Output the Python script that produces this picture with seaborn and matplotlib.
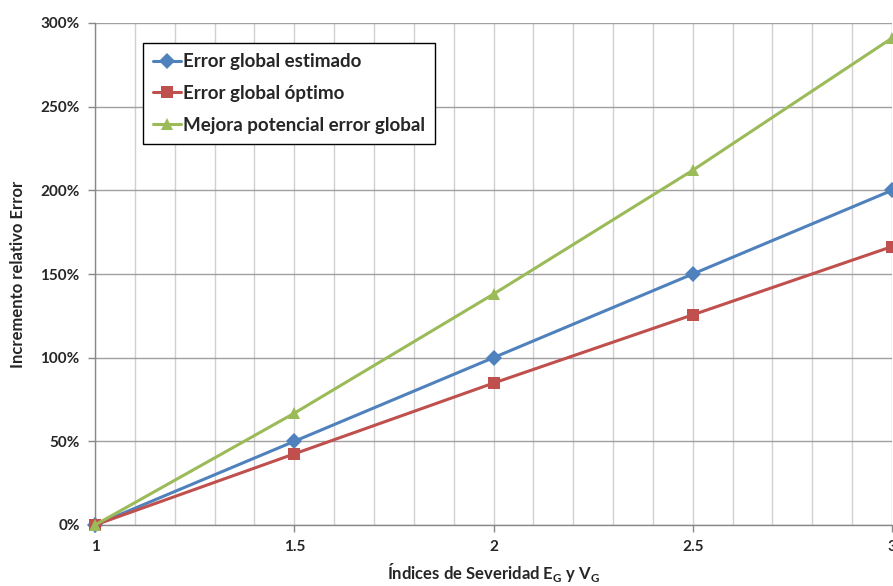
import matplotlib
matplotlib.use("Agg")
import matplotlib.pyplot as plt
import seaborn as sns
import pandas as pd
import numpy as np
from matplotlib.ticker import PercentFormatter, MultipleLocator

x_vals = [1, 1.5, 2, 2.5, 3]
estimado = [0.0, 0.50, 1.00, 1.50, 2.00]
optimo = [0.0, 0.425, 0.848, 1.256, 1.664]
mejora = [0.0, 0.668, 1.380, 2.120, 2.910]
series_names = ["Error global estimado", "Error global óptimo", "Mejora potencial error global"]

sns.set_theme(style="white")
plt.rcParams['font.family'] = ['Lato', 'DejaVu Sans']

df = pd.DataFrame({
    "x": x_vals * 3,
    "y": estimado + optimo + mejora,
    "serie": [series_names[0]] * 5 + [series_names[1]] * 5 + [series_names[2]] * 5,
})

palette = {series_names[0]: "#4F81BD", series_names[1]: "#C0504D", series_names[2]: "#9BBB59"}
markers = {series_names[0]: "D", series_names[1]: "s", series_names[2]: "^"}

fig = plt.figure(figsize=(8.93, 5.86), dpi=100)
ax = fig.add_axes([95/893, 61/586, 797/893, 502/586])

sns.lineplot(data=df, x="x", y="y", hue="serie", style="serie", palette=palette,
             markers=markers, dashes=False, linewidth=2.2, markersize=8,
             markeredgewidth=0, ax=ax, clip_on=False, zorder=5)

ax.set_xlim(1, 3)
ax.set_ylim(0, 3)
ax.xaxis.set_minor_locator(MultipleLocator(0.1))
ax.yaxis.set_major_locator(MultipleLocator(0.5))
ax.yaxis.set_major_formatter(PercentFormatter(1.0, decimals=0))
ax.set_xticks(x_vals)
ax.set_xticklabels(["1", "1.5", "2", "2.5", "3"])

ax.grid(which="minor", axis="x", color="#D0D0D0", linewidth=1.0)
ax.grid(which="major", axis="x", color="#D0D0D0", linewidth=1.0)
ax.grid(which="major", axis="y", color="#A0A0A0", linewidth=1.0)
ax.set_axisbelow(True)

for s in ["top", "right"]:
    ax.spines[s].set_visible(False)
for s in ["left", "bottom"]:
    ax.spines[s].set_color("#888888")
    ax.spines[s].set_linewidth(1.0)

ax.tick_params(axis="both", which="major", direction="out", length=5, width=1,
               color="#888888", labelsize=11, pad=6, bottom=True, left=True)
ax.tick_params(axis="x", which="minor", length=0)
for lab in ax.get_xticklabels() + ax.get_yticklabels():
    lab.set_fontweight("bold")

ax.set_xlabel(r"Índices de Severidad E$_\mathregular{G}$ y V$_\mathregular{G}$",
              fontsize=12, fontweight="bold", labelpad=5)
ax.set_ylabel("Incremento relativo Error", fontsize=12, fontweight="bold", labelpad=10)

leg = ax.legend(loc="upper left", bbox_to_anchor=(0.060, 0.960), borderaxespad=0,
                frameon=True, fancybox=False, edgecolor="black", framealpha=1,
                prop={"weight": "bold", "size": 13.5}, handlelength=1.5,
                handletextpad=0.1, borderpad=0.55, labelspacing=0.78, title=None)
leg.get_frame().set_linewidth(1.0)

fig.savefig("out.png", dpi=100)
